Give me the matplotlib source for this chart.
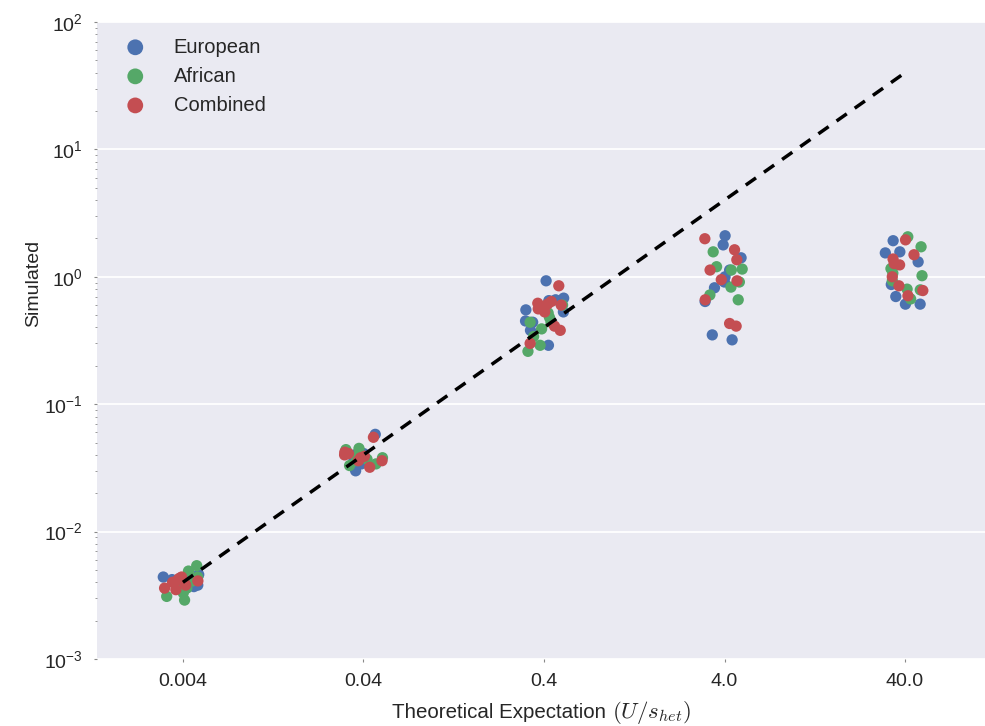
import numpy as np
import matplotlib

matplotlib.use("Agg")
import matplotlib.pyplot as plt

# Valores (um grupo por expectativa teórica)
expected = [0.004, 0.04, 0.4, 4.0, 40.0]
tick_labels = ["0.004", "0.04", "0.4", "4.0", "40.0"]

european = [
    [0.0046, 0.0046, 0.0037, 0.0042, 0.0040, 0.0038, 0.0044, 0.0041],
    [0.058, 0.037, 0.030, 0.040, 0.038, 0.034, 0.041],
    [0.93, 0.68, 0.66, 0.65, 0.53, 0.44, 0.38, 0.29, 0.55, 0.45],
    [2.1, 1.78, 1.41, 1.13, 1.0, 0.91, 0.82, 0.64, 0.35, 0.32],
    [1.92, 1.57, 1.54, 1.31, 0.87, 0.70, 0.61, 0.61],
]
african = [
    [0.0054, 0.0049, 0.0041, 0.0031, 0.0029, 0.0033, 0.0044, 0.0039, 0.0036],
    [0.044, 0.045, 0.036, 0.033, 0.034, 0.040, 0.038, 0.037],
    [0.52, 0.48, 0.44, 0.44, 0.39, 0.34, 0.29, 0.26, 0.60],
    [1.57, 1.13, 1.2, 0.91, 0.83, 0.72, 0.66, 1.15],
    [1.72, 2.06, 1.16, 1.07, 1.02, 0.80, 0.93, 0.79, 0.67],
]
combined = [
    [0.0038, 0.0042, 0.0043, 0.0040, 0.0036, 0.0041, 0.0044, 0.0039, 0.0035],
    [0.055, 0.040, 0.036, 0.042, 0.041, 0.036, 0.032, 0.038, 0.039],
    [0.85, 0.62, 0.61, 0.64, 0.56, 0.53, 0.41, 0.38, 0.30, 0.60],
    [1.99, 1.63, 1.36, 1.13, 0.95, 0.93, 0.66, 0.43, 0.41],
    [1.95, 1.49, 1.27, 1.38, 1.24, 1.00, 0.85, 0.78, 0.71],
]

plt.rcParams["font.family"] = ["Liberation Sans", "DejaVu Sans"]
plt.rcParams["mathtext.fontset"] = "cm"
plt.rcParams["axes.unicode_minus"] = False

TEXT = "#262626"
W, H = 985, 726

fig = plt.figure(figsize=(W / 100, H / 100), dpi=100)
ax = fig.add_axes([97 / W, 67 / H, 1 - 97 / W, 637 / H])
ax.set_facecolor("#EAEAF2")
for s in ax.spines.values():
    s.set_visible(False)

rng = np.random.default_rng(7)
groups = [
    ("European", european, "#4C72B0"),
    ("African", african, "#55A868"),
    ("Combined", combined, "#C44E52"),
]
for label, data, color in groups:
    for i, vals in enumerate(data):
        xs = i + rng.uniform(-0.11, 0.11, len(vals))
        ax.scatter(xs, vals, s=66, color=color, edgecolors="none", zorder=3,
                   label=label if i == 0 else None)

x = np.arange(len(expected))
ax.plot(x, expected, color="black", lw=2.5, linestyle=(0, (3.6, 2.8)), zorder=4)

ax.set_yscale("log")
ax.set_ylim(1e-3, 1e2)
ax.set_xlim(-0.476, 4.443)
ax.set_xticks(x)
ax.set_xticklabels(tick_labels)

ax.grid(True, axis="y", which="major", color="white", lw=1.3)
ax.grid(False, axis="x")
ax.set_axisbelow(True)

ax.tick_params(axis="both", which="major", length=2, width=0.8, color="#888888",
               labelsize=14, labelcolor=TEXT, pad=8)
ax.tick_params(axis="y", which="minor", length=1.5, width=0.6, color="#888888")

# eixo y: rótulo um pouco acima do centro, como no original
ax.set_ylabel("Simulated", fontsize=14, color=TEXT)
ax.yaxis.set_label_coords(-0.062, 0.59)

# eixo x: texto + parte matemática (maior) em dois pedaços
fig.text(392 / W, 1 - 718 / H, "Theoretical Expectation", fontsize=14.8,
         color=TEXT, ha="left", va="baseline")
fig.text(612 / W, 1 - 718 / H, r"$(U/s_{het})$", fontsize=16.5,
         color=TEXT, ha="left", va="baseline")

leg = ax.legend(loc="upper left", frameon=False, fontsize=14.5, markerscale=1.4,
                handletextpad=0.9, labelspacing=0.5, borderaxespad=0.5,
                bbox_to_anchor=(0.0, 1.004))
for t in leg.get_texts():
    t.set_color(TEXT)

fig.savefig("out.png", dpi=100)
